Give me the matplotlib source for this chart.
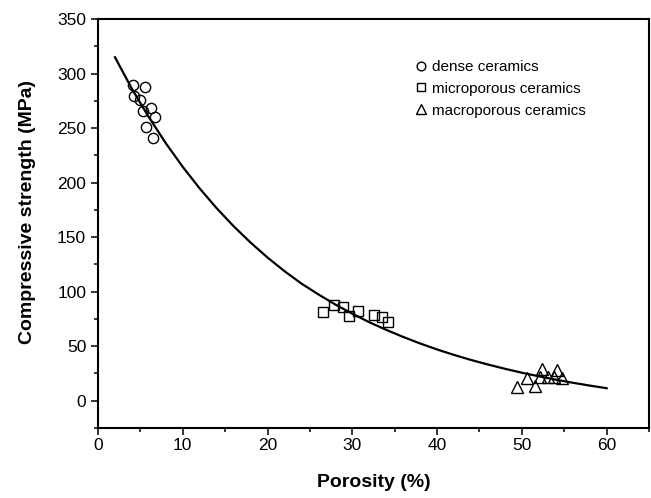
import matplotlib
matplotlib.use("Agg")
import matplotlib.pyplot as plt
from matplotlib.ticker import MultipleLocator

plt.rcParams['font.family'] = ['Liberation Sans', 'DejaVu Sans']

# Data
dense_x = [4.1, 5.5, 4.3, 4.9, 6.2, 5.3, 6.7, 5.7, 6.5]
dense_y = [289.4, 287.3, 279.4, 275.7, 268.0, 265.3, 260.4, 251.2, 240.6]

micro_x = [26.6, 27.8, 28.9, 29.6, 30.7, 32.5, 33.5, 34.2]
micro_y = [81.6, 87.7, 85.6, 77.9, 82.2, 78.6, 77.0, 72.4]

macro_x = [49.4, 50.6, 51.5, 52.4, 52.1, 53.1, 54.1, 53.8, 54.7]
macro_y = [12.8, 21.1, 13.8, 28.8, 21.5, 22.0, 28.1, 21.5, 20.5]

# fitted curve, every 2 % porosity
fit_x = [2, 4, 6, 8, 10, 12, 14, 16, 18, 20, 22, 24, 26, 28, 30, 32, 34,
         36, 38, 40, 42, 44, 46, 48, 50, 52, 54, 56, 58, 60]
fit_y = [315.0, 286.0, 259.9, 236.1, 214.4, 194.6, 176.5, 160.0, 145.0,
         131.3, 118.8, 107.4, 97.5, 88.2, 79.8, 72.0, 65.0, 58.5, 52.5,
         47.0, 42.0, 37.4, 33.2, 29.3, 25.7, 22.4, 19.3, 16.5, 13.9, 11.5]

labels = ['dense ceramics', 'microporous ceramics', 'macroporous ceramics']

fig = plt.figure(figsize=(6.51, 4.98), dpi=100)
ax = fig.add_axes([98/651, 1 - 428/498, (649 - 98)/651, (428 - 19)/498])

mkw = dict(linestyle='none', markerfacecolor='none', markeredgecolor='black',
           markeredgewidth=1.0)
ax.plot(dense_x, dense_y, marker='o', markersize=7.4, label=labels[0], **mkw)
ax.plot(micro_x, micro_y, marker='s', markersize=6.6, label=labels[1], **mkw)
ax.plot(macro_x, macro_y, marker='^', markersize=9.2, label=labels[2], **mkw)
ax.plot(fit_x, fit_y, color='black', linewidth=1.6, zorder=5)

ax.set_xlim(0, 65)
ax.set_ylim(-25, 350)
ax.xaxis.set_major_locator(MultipleLocator(10))
ax.xaxis.set_minor_locator(MultipleLocator(5))
ax.yaxis.set_major_locator(MultipleLocator(50))
ax.yaxis.set_minor_locator(MultipleLocator(25))
ax.set_xticks(range(0, 61, 10))

ax.tick_params(which='both', direction='out', top=False, right=False,
               labelsize=12.5, width=1.1)
ax.tick_params(which='major', length=5)
ax.tick_params(which='minor', length=3)
ax.tick_params(axis='x', which='major', pad=2)
for s in ax.spines.values():
    s.set_linewidth(1.5)

ax.set_xlabel('Porosity (%)', fontsize=14, fontweight='bold', labelpad=15)
ax.set_ylabel('Compressive strength (MPa)', fontsize=14, fontweight='bold')
ax.yaxis.set_label_coords(-0.112, 0.528)

leg = ax.legend(loc='upper left', bbox_to_anchor=(0.578, 0.90), frameon=False,
                fontsize=11, markerscale=0.85, handlelength=0.6,
                handletextpad=0.4, labelspacing=0.52, borderaxespad=0,
                borderpad=0)

fig.savefig('out.png', dpi=100)
